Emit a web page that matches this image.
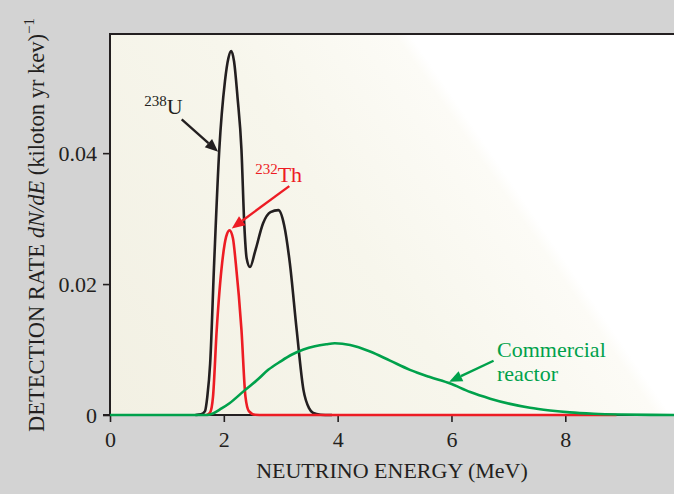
<!DOCTYPE html>
<html>
<head>
<meta charset="utf-8">
<script src="https://cdn.jsdelivr.net/npm/d3@7"></script>
<style>
  html, body { margin: 0; padding: 0; background: #d3d3d3; }
  svg { display: block; }
  text { font-family: "Liberation Serif", "Times New Roman", serif; }
</style>
</head>
<body>
<div id="chart"></div>
<script>
// --- data (energy in MeV, rate per kiloton yr keV) ---
const uEnergy = [1.5, 1.6, 1.67, 1.71, 1.76, 1.83, 1.92, 2.02, 2.08, 2.13, 2.18, 2.24, 2.31, 2.36, 2.40, 2.46, 2.55, 2.69, 2.82, 2.96, 3.06, 3.16, 3.28, 3.40, 3.50, 3.57, 3.7, 3.9];
const uRate = [0, 0.0001, 0.0006, 0.0028, 0.0079, 0.0232, 0.0405, 0.0510, 0.0545, 0.0556, 0.0540, 0.0486, 0.0405, 0.0290, 0.0240, 0.0226, 0.0250, 0.0293, 0.0310, 0.0313, 0.0290, 0.0232, 0.0130, 0.0038, 0.0010, 0.0003, 0.00005, 0];

const thEnergy = [1.7, 1.76, 1.81, 1.875, 1.97, 2.04, 2.10, 2.16, 2.21, 2.31, 2.38, 2.44, 2.55, 2.7, 8.9];
const thRate = [0, 0.0004, 0.0028, 0.013, 0.0232, 0.0272, 0.0282, 0.0270, 0.0232, 0.013, 0.0028, 0.0006, 0.00005, 0, 0];

const reactorEnergy = [0, 1.7, 1.8, 1.96, 2.1, 2.37, 2.58, 2.78, 3.0, 3.19, 3.4, 3.6, 3.8, 3.95, 4.22, 4.57, 4.92, 5.27, 5.62, 5.98, 6.33, 6.68, 7.03, 7.38, 7.73, 8.08, 8.5, 9.0, 9.5, 9.91];
const reactorRate = [0, 0, 0.0002, 0.001, 0.0018, 0.0038, 0.0053, 0.0069, 0.0082, 0.0092, 0.0100, 0.0105, 0.0108, 0.01095, 0.0107, 0.0097, 0.0083, 0.0069, 0.0058, 0.0048, 0.0035, 0.0025, 0.0017, 0.0011, 0.0007, 0.0004, 0.0002, 0.00008, 0.00002, 0];

const xTicks = [0, 2, 4, 6, 8];
const yTicks = [0, 0.02, 0.04];
const xDomain = [0, 9.91];
const yDomain = [0, 0.0582];

function neutrinoChart(selector, width, height) {
  const black = "#231f20";
  const red = "#ed1c24";
  const green = "#00a14b";

  let dimensions = {
    width: width,
    height: height,
    margin: { top: 34, right: 0, bottom: 79, left: 110 },
  };
  dimensions.boundedWidth =
    dimensions.width - dimensions.margin.left - dimensions.margin.right;
  dimensions.boundedHeight =
    dimensions.height - dimensions.margin.top - dimensions.margin.bottom;

  const wrapper = d3
    .select(selector)
    .append("svg")
    .attr("width", dimensions.width)
    .attr("height", dimensions.height);

  wrapper
    .append("rect")
    .attr("width", dimensions.width)
    .attr("height", dimensions.height)
    .attr("fill", "#d3d3d3");

  const bounds = wrapper
    .append("g")
    .attr(
      "transform",
      `translate(${dimensions.margin.left}, ${dimensions.margin.top})`
    );

  // scales
  const xScale = d3
    .scaleLinear()
    .domain(xDomain)
    .range([0, dimensions.boundedWidth]);

  const yScale = d3
    .scaleLinear()
    .domain(yDomain)
    .range([dimensions.boundedHeight, 0]);

  // background: cream fading to white towards the top right
  const grad = wrapper
    .append("defs")
    .append("linearGradient")
    .attr("id", "bg")
    .attr("gradientUnits", "userSpaceOnUse")
    .attr("x1", 0)
    .attr("y1", dimensions.boundedHeight)
    .attr("x2", 0.825 * 500)
    .attr("y2", dimensions.boundedHeight - 0.566 * 500);
  [
    [0, "#f2f0e3"],
    [0.6, "#f7f6ec"],
    [0.9, "#fcfbf6"],
    [0.925, "#ffffff"],
    [1, "#ffffff"],
  ].forEach(([o, c]) =>
    grad.append("stop").attr("offset", o).attr("stop-color", c)
  );

  bounds
    .append("rect")
    .attr("width", dimensions.boundedWidth)
    .attr("height", dimensions.boundedHeight)
    .attr("fill", "url(#bg)");

  // frame: top and left lines, baseline
  bounds
    .append("line")
    .attr("x1", -1)
    .attr("x2", dimensions.boundedWidth)
    .attr("y1", 0)
    .attr("y2", 0)
    .attr("stroke", black)
    .attr("stroke-width", 2);
  bounds
    .append("line")
    .attr("x1", 0)
    .attr("x2", 0)
    .attr("y1", -1)
    .attr("y2", dimensions.boundedHeight)
    .attr("stroke", black)
    .attr("stroke-width", 2);
  bounds
    .append("line")
    .attr("x1", -7)
    .attr("x2", dimensions.boundedWidth)
    .attr("y1", dimensions.boundedHeight)
    .attr("y2", dimensions.boundedHeight)
    .attr("stroke", black)
    .attr("stroke-width", 2);

  // axes
  const xAxisGenerator = d3
    .axisBottom()
    .scale(xScale)
    .tickValues(xTicks)
    .tickSize(7)
    .tickPadding(9)
    .tickFormat((d) => d);

  const xAxis = bounds
    .append("g")
    .attr("transform", `translate(0, ${dimensions.boundedHeight})`)
    .call(xAxisGenerator);

  const yAxisGenerator = d3
    .axisLeft()
    .scale(yScale)
    .tickValues(yTicks)
    .tickSize(7)
    .tickPadding(6)
    .tickFormat((d) => (d === 0 ? "0" : d3.format(".2f")(d)));

  const yAxis = bounds.append("g").call(yAxisGenerator);

  [xAxis, yAxis].forEach((ax) => {
    ax.select(".domain").remove();
    ax.selectAll(".tick line").attr("stroke", black).attr("stroke-width", 1.6);
    ax.selectAll(".tick text")
      .attr("fill", black)
      .style("font-size", "22px")
      .style("font-family", "'Liberation Serif', serif");
  });

  // axis labels
  bounds
    .append("text")
    .attr("x", dimensions.boundedWidth / 2)
    .attr("y", dimensions.boundedHeight + 63)
    .attr("text-anchor", "middle")
    .attr("fill", black)
    .style("font-size", "22px")
    .text("NEUTRINO ENERGY (MeV)");

  const yLabel = wrapper
    .append("text")
    .attr("transform", `translate(44, 432) rotate(-90)`)
    .attr("fill", black)
    .style("font-size", "22.5px");
  yLabel.append("tspan").text("DETECTION RATE ");
  yLabel.append("tspan").style("font-style", "italic").text("dN/dE");
  yLabel.append("tspan").text(" (kiloton yr kev)");
  yLabel
    .append("tspan")
    .attr("dy", -10)
    .style("font-size", "15px")
    .text("\u22121");

  // curves
  const line = d3
    .line()
    .x((d) => xScale(d[0]))
    .y((d) => yScale(d[1]))
    .curve(d3.curveMonotoneX);

  const series = [
    { e: uEnergy, r: uRate, color: black },
    { e: thEnergy, r: thRate, color: red },
    { e: reactorEnergy, r: reactorRate, color: green },
  ];

  bounds
    .selectAll("path.curve")
    .data(series)
    .enter()
    .append("path")
    .attr("class", "curve")
    .attr("d", (s) => line(s.e.map((e, i) => [e, s.r[i]])))
    .attr("fill", "none")
    .attr("stroke", (s) => s.color)
    .attr("stroke-width", 2.6)
    .attr("stroke-linejoin", "round");

  // annotations (data units)
  function arrow(from, to, color) {
    const x1 = xScale(from[0]),
      y1 = yScale(from[1]),
      x2 = xScale(to[0]),
      y2 = yScale(to[1]);
    const ang = Math.atan2(y2 - y1, x2 - x1);
    const len = 13,
      half = 5.5;
    const bx = x2 - len * Math.cos(ang),
      by = y2 - len * Math.sin(ang);
    bounds
      .append("line")
      .attr("x1", x1)
      .attr("y1", y1)
      .attr("x2", bx)
      .attr("y2", by)
      .attr("stroke", color)
      .attr("stroke-width", 2.4);
    bounds
      .append("path")
      .attr(
        "d",
        `M${x2},${y2}L${bx + half * Math.sin(ang)},${by - half * Math.cos(ang)}` +
          `L${bx - half * Math.sin(ang)},${by + half * Math.cos(ang)}Z`
      )
      .attr("fill", color);
  }

  function isotope(pos, mass, symbol, color) {
    const t = bounds
      .append("text")
      .attr("x", xScale(pos[0]))
      .attr("y", yScale(pos[1]))
      .attr("fill", color)
      .style("font-size", "22px");
    t.append("tspan").attr("dy", -8).style("font-size", "15px").text(mass);
    t.append("tspan").attr("dy", 8).text(symbol);
  }

  isotope([0.6, 0.046], "238", "U", black);
  arrow([1.26, 0.04515], [1.9, 0.0402], black);

  isotope([2.55, 0.0356], "232", "Th", red);
  arrow([3.15, 0.03496], [2.14, 0.0285], red);

  const reactorText = bounds
    .append("text")
    .attr("fill", green)
    .style("font-size", "22px");
  reactorText
    .append("tspan")
    .attr("x", xScale(6.8))
    .attr("y", yScale(0.0088))
    .text("Commercial");
  reactorText
    .append("tspan")
    .attr("x", xScale(6.8))
    .attr("y", yScale(0.0052))
    .text("reactor");
  arrow([6.74, 0.00829], [5.96, 0.00508], green);
}

neutrinoChart("#chart", 674, 494);
</script>
</body>
</html>
